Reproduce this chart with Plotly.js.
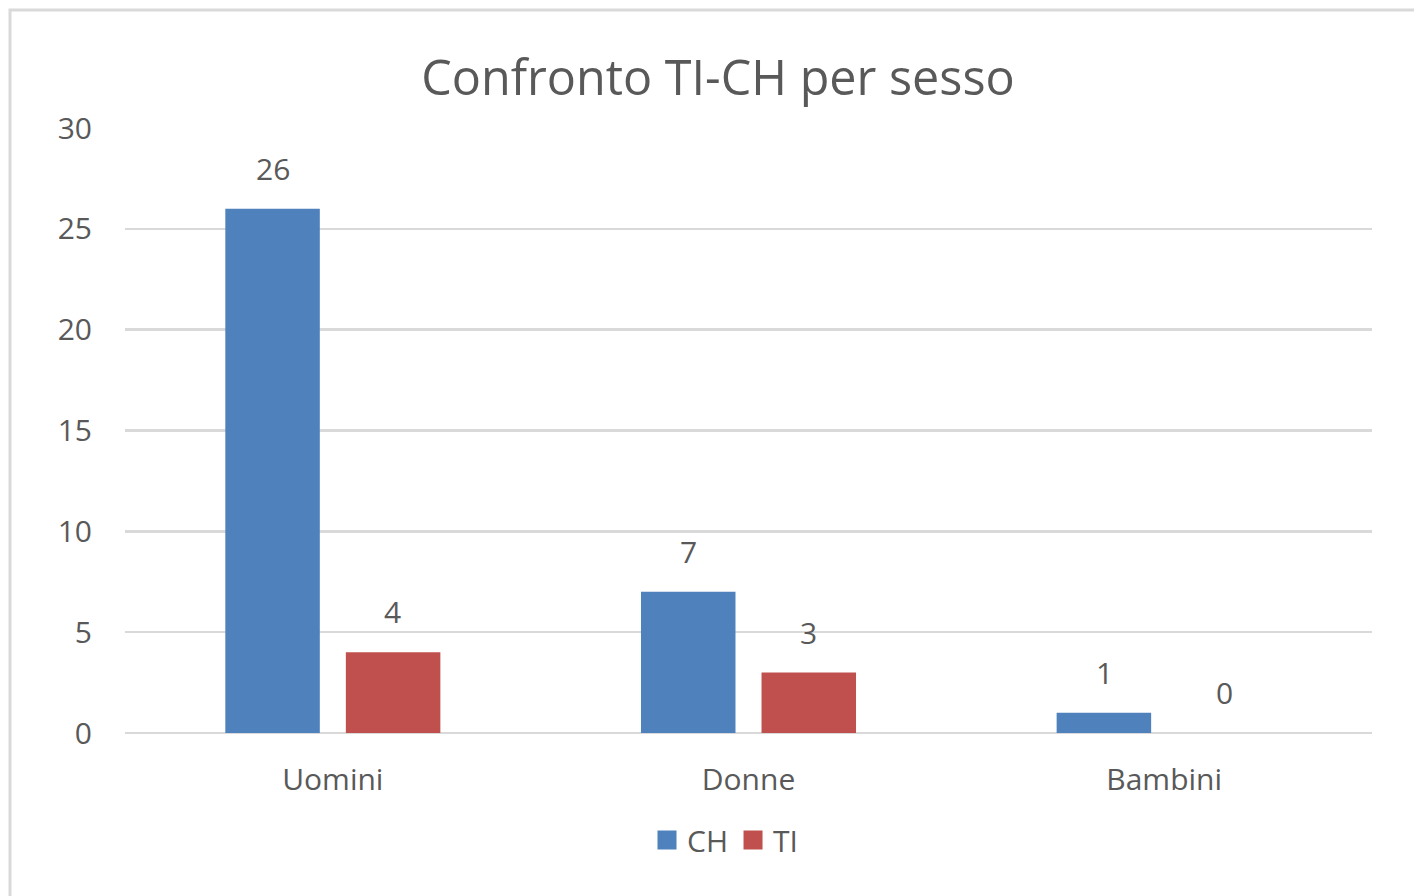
<!DOCTYPE html>
<html>
<head>
<meta charset="utf-8">
<script src="https://cdn.plot.ly/plotly-3.0.1.min.js"></script>
<style>
html,body{margin:0;padding:0;background:#fff;}
#chart{width:1414px;height:896px;}
</style>
</head>
<body>
<div id="chart"></div>
<script>
const categories = ["Uomini", "Donne", "Bambini"];
const seriesNames = ["CH", "TI"];
const chValues = [26, 7, 1];
const tiValues = [4, 3, 0];
const yTicks = [0, 5, 10, 15, 20, 25, 30];
const chartTitle = "Confronto TI-CH per sesso";

const colors = {CH: "#4F81BD", TI: "#C0504D"};
const textColor = "#595959";
const fontFam = "'Open Sans', 'Noto Sans', sans-serif";

const seriesValues = [chValues, tiValues];
const traces = seriesNames.map((name, i) => ({
  type: "bar",
  name: name,
  x: categories,
  y: seriesValues[i],
  marker: {color: colors[name]},
  showlegend: false,
  hoverinfo: "none"
}));

// legend entries (larger square swatches)
seriesNames.forEach(name => {
  traces.push({
    type: "scatter", mode: "markers", name: name,
    x: [null], y: [null],
    marker: {symbol: "square", size: 16, color: colors[name],
             line: {color: colors[name], width: 3}},
    showlegend: true, hoverinfo: "none"
  });
});

const offsets = [-60, 60];
const annotations = [];
seriesNames.forEach((name, i) => {
  seriesValues[i].forEach((v, j) => {
    annotations.push({
      x: categories[j], y: v, xref: "x", yref: "y",
      text: String(v), showarrow: false,
      xshift: offsets[i], yshift: 18, yanchor: "bottom",
      font: {family: fontFam, size: 30, color: textColor}
    });
  });
});

const layout = {
  width: 1414, height: 896,
  paper_bgcolor: "#ffffff", plot_bgcolor: "#ffffff",
  margin: {l: 125, r: 42, t: 128, b: 163},
  font: {family: fontFam, color: textColor, size: 30},
  title: {
    text: chartTitle,
    x: 718/1414, xref: "container", xanchor: "center",
    y: 1 - 78/896, yref: "container", yanchor: "middle",
    font: {family: fontFam, size: 48.5, color: textColor}
  },
  barmode: "group",
  bargap: 0.42,
  bargroupgap: 0.216,
  xaxis: {
    type: "category",
    showgrid: false, zeroline: false, showline: false,
    ticks: "", ticklabelstandoff: 26,
    tickfont: {family: fontFam, size: 30, color: textColor}
  },
  yaxis: {
    range: [0, 30],
    tickvals: yTicks,
    showgrid: true, gridcolor: "#D9D9D9", gridwidth: 2.5,
    zeroline: true, zerolinecolor: "#D9D9D9", zerolinewidth: 2.5,
    showline: false, ticks: "", ticklabelstandoff: 32,
    tickfont: {family: fontFam, size: 30, color: textColor}
  },
  showlegend: true,
  legend: {
    orientation: "h",
    x: (725-125)/1247, xanchor: "center",
    y: (733-840)/605, yanchor: "middle",
    font: {family: fontFam, size: 30, color: textColor},
    itemsizing: "trace",
    traceorder: "normal"
  },
  annotations: annotations,
  shapes: [{
    type: "rect", xref: "paper", yref: "paper",
    x0: (10-125)/1247, x1: 1.2, y0: -0.4, y1: (733-10)/605,
    line: {color: "#D9D9D9", width: 3}, layer: "below"
  }]
};

Plotly.newPlot("chart", traces, layout, {displayModeBar: false, staticPlot: true});
</script>
</body>
</html>
